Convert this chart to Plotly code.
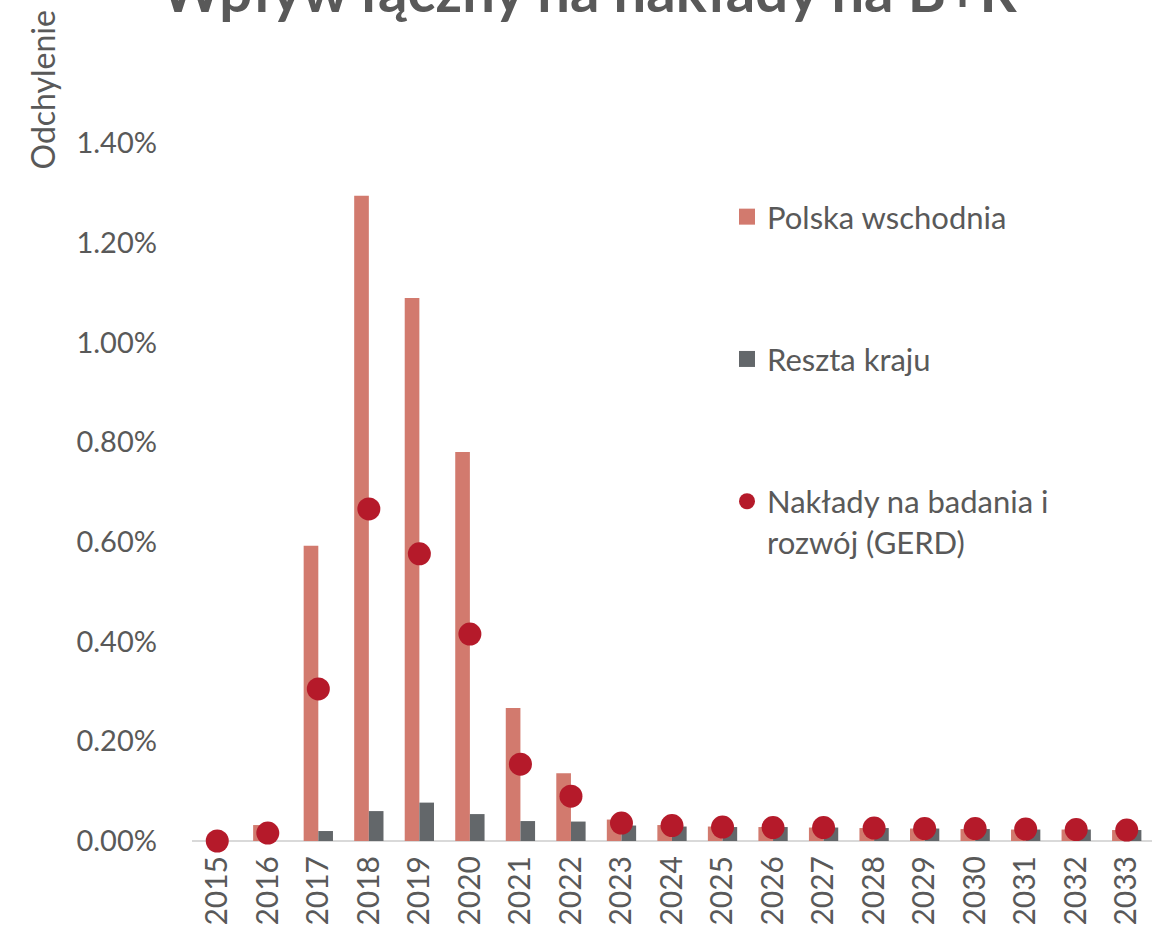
import plotly.graph_objects as go

years = [str(y) for y in range(2015, 2034)]
polska_wschodnia = [0.0, 0.032, 0.592, 1.294, 1.089, 0.780, 0.267, 0.136, 0.043, 0.032,
                    0.029, 0.028, 0.027, 0.026, 0.025, 0.024, 0.023, 0.023, 0.022]
reszta_kraju = [0.0, 0.0, 0.020, 0.060, 0.077, 0.054, 0.040, 0.039, 0.031, 0.029,
                0.028, 0.028, 0.027, 0.026, 0.025, 0.024, 0.023, 0.023, 0.022]
gerd = [0.0, 0.016, 0.305, 0.666, 0.576, 0.415, 0.154, 0.090, 0.036, 0.031,
        0.028, 0.027, 0.027, 0.026, 0.025, 0.025, 0.024, 0.023, 0.022]
y_ticks = [0.0, 0.2, 0.4, 0.6, 0.8, 1.0, 1.2, 1.4]
y_tick_labels = [f"{v:.2f}%" for v in y_ticks]
series_names = ["Polska wschodnia", "Reszta kraju", "Nakłady na badania i<br>rozwój (GERD)"]

FONT = "Lato"
TXT = "#595959"
C_PL, C_RK, C_GERD = "#D27A6E", "#63676A", "#B51A2A"
W, H = 1171, 927
L, R, T, B = 192, 19, 143, 86
PH = H - T - B
PW = W - L - R

fig = go.Figure()
fig.add_trace(go.Bar(x=years, y=polska_wschodnia, name=series_names[0], showlegend=False,
                     marker=dict(color=C_PL, line=dict(width=0))))
fig.add_trace(go.Bar(x=years, y=reszta_kraju, name=series_names[1], showlegend=False,
                     marker=dict(color=C_RK, line=dict(width=0))))
fig.add_trace(go.Scatter(x=years, y=gerd, name=series_names[2], showlegend=False,
                         mode="markers", cliponaxis=False,
                         marker=dict(color=C_GERD, size=23, line=dict(width=0))))

# legend entries (larger symbols than plotly's default bar swatches)
for i, (nm, col, sym) in enumerate(zip(series_names, [C_PL, C_RK, C_GERD],
                                       ["square", "square", "circle"])):
    fig.add_trace(go.Scatter(x=[None], y=[None], name=nm, mode="markers",
                             legendgroup=f"g{i}",
                             marker=dict(color=col, size=16, symbol=sym, line=dict(width=0))))

fig.update_layout(
    width=W, height=H,
    margin=dict(l=L, r=R, t=T, b=B),
    paper_bgcolor="white", plot_bgcolor="white",
    font=dict(family=FONT, color=TXT, size=30),
    barmode="group", bargap=0.42, bargroupgap=0,
    showlegend=True,
    legend=dict(x=(727 - L) / PW, y=(H - B - 190) / PH, xanchor="left", yanchor="top",
                font=dict(size=31, color=TXT, family=FONT), tracegroupgap=99,
                valign="top", itemwidth=30, itemsizing="trace", bgcolor="rgba(0,0,0,0)"),
    xaxis=dict(type="category", range=[-0.5, len(years) - 0.5], tickangle=-90,
               showgrid=False, showline=False, zeroline=False, ticks="", automargin=False,
               ticklabelstandoff=8, tickfont=dict(size=30, color=TXT, family=FONT)),
    yaxis=dict(range=[0, 1.4], tickvals=y_ticks, ticktext=y_tick_labels,
               showgrid=False, zeroline=True, zerolinecolor="#D9D9D9", zerolinewidth=2,
               showline=False, ticks="", automargin=False, ticklabelstandoff=34,
               tickfont=dict(size=29, color=TXT, family=FONT)),
    annotations=[
        dict(text="<b>Wpływ łączny na nakłady na B+R</b>", xref="paper", yref="paper",
             x=(589 - L) / PW, y=(H - B + 11) / PH, xanchor="center", yanchor="middle",
             showarrow=False, font=dict(size=58, color=TXT, family=FONT)),
        dict(text="Odchylenie", xref="paper", yref="paper", textangle=-90,
             x=(42 - L) / PW, y=(H - B - 172) / PH, xanchor="center", yanchor="bottom",
             showarrow=False, font=dict(size=32, color=TXT, family=FONT)),
    ],
)

fig.write_html("out.html", config={"displayModeBar": False},
               post_script="document.body.style.margin='0';")
